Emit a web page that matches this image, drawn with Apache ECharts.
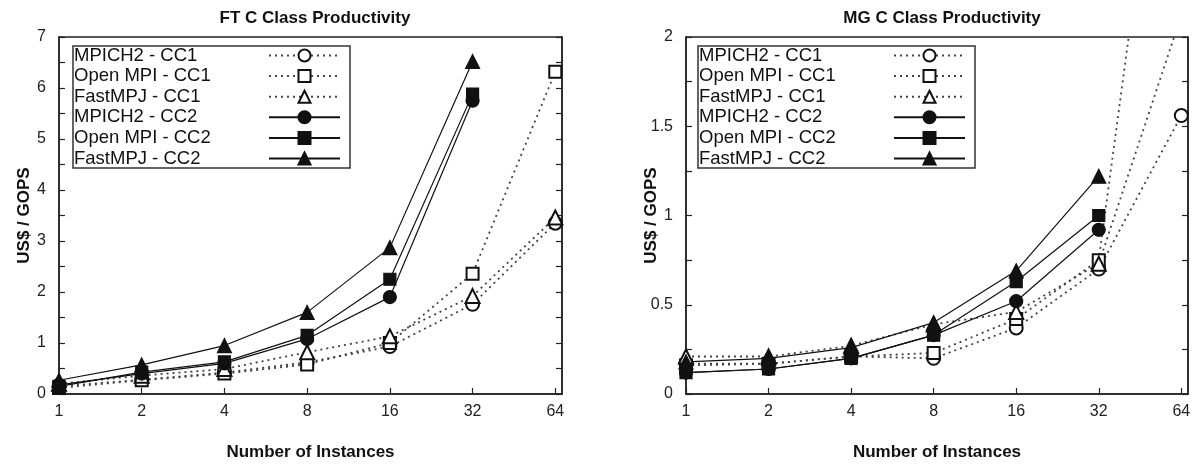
<!DOCTYPE html>
<html><head><meta charset="utf-8">
<script src="https://cdn.jsdelivr.net/npm/echarts@6/dist/echarts.min.js"></script>
<style>html,body{margin:0;padding:0;background:#fff}#c{width:1195px;height:466px}</style>
</head><body><div id="c"></div>
<script>
// ---- data ----
const instances = [1, 2, 4, 8, 16, 32, 64];
const xTickLabels = ['1', '2', '4', '8', '16', '32', '64'];
const seriesNames = ['MPICH2 - CC1', 'Open MPI - CC1', 'FastMPJ - CC1', 'MPICH2 - CC2', 'Open MPI - CC2', 'FastMPJ - CC2'];
const chartTitles = ['FT C Class Productivity', 'MG C Class Productivity'];

// FT C class (US$/GOPS)
const ftMpich2CC1  = [0.15, 0.28, 0.42, 0.62, 0.93, 1.76, 3.35];
const ftOpenmpiCC1 = [0.12, 0.27, 0.40, 0.58, 1.00, 2.36, 6.32];
const ftFastmpjCC1 = [0.20, 0.36, 0.49, 0.82, 1.13, 1.92, 3.46];
const ftMpich2CC2  = [0.18, 0.40, 0.60, 1.08, 1.90, 5.75, null];
const ftOpenmpiCC2 = [0.15, 0.43, 0.63, 1.15, 2.25, 5.88, null];
const ftFastmpjCC2 = [0.27, 0.57, 0.95, 1.60, 2.87, 6.52, null];

// MG C class (US$/GOPS)
const mgMpich2CC1  = [0.17, 0.17, 0.21, 0.20, 0.37, 0.70, 1.56];
const mgOpenmpiCC1 = [0.16, 0.17, 0.21, 0.23, 0.42, 0.75, 4.20];
const mgFastmpjCC1 = [0.21, 0.21, 0.27, 0.39, 0.46, 0.73, 2.12];
const mgMpich2CC2  = [0.12, 0.14, 0.20, 0.33, 0.52, 0.92, null];
const mgOpenmpiCC2 = [0.12, 0.14, 0.20, 0.33, 0.63, 1.00, null];
const mgFastmpjCC2 = [0.18, 0.20, 0.26, 0.40, 0.69, 1.22, null];

const ftYTicks = {min: 0, max: 7, interval: 1};
const mgYTicks = {min: 0, max: 2, interval: 0.5};
// ---- chart ----
const FONT = 'Liberation Sans';
const symbols = ['emptyCircle', 'emptyRect', 'emptyTriangle', 'circle', 'rect', 'triangle'];
const symSizes = [13, 12, 14, 13, 12, 14];

const chart = echarts.init(document.getElementById('c'), null, {renderer: 'canvas'});

function mkSeries(name, values, idx, k) {
  const dotted = k < 3;
  return {
    name: name, type: 'line', xAxisIndex: idx, yAxisIndex: idx,
    data: instances.map((x, i) => values[i] == null ? null : [x, values[i]]).filter(d => d),
    symbol: symbols[k], symbolSize: symSizes[k], showAllSymbol: true,
    clip: true, animation: false,
    lineStyle: dotted ? {color: '#444', width: 1.8, type: [2, 4]} : {color: '#111', width: 1.2, type: 'solid'},
    itemStyle: {color: '#111', borderColor: '#111', borderWidth: 1.2},
    emphasis: {disabled: true}
  };
}

const ftSets = [ftMpich2CC1, ftOpenmpiCC1, ftFastmpjCC1, ftMpich2CC2, ftOpenmpiCC2, ftFastmpjCC2];
const mgSets = [mgMpich2CC1, mgOpenmpiCC1, mgFastmpjCC1, mgMpich2CC2, mgOpenmpiCC2, mgFastmpjCC2];
const series = [];
ftSets.forEach((v, k) => series.push(mkSeries(seriesNames[k], v, 0, k)));
mgSets.forEach((v, k) => series.push(mkSeries(seriesNames[k], v, 1, k)));

const grids = [
  {left: 59, top: 37, width: 503, height: 358},
  {left: 686, top: 37, width: 502, height: 358}
];

function mkX(gi) {
  return {
    type: 'log', logBase: 2, gridIndex: gi, min: 1, max: 67.7,
    name: 'Number of Instances', nameLocation: 'middle', nameGap: 50,
    nameTextStyle: {fontFamily: FONT, fontSize: 17, fontWeight: 'bold', color: '#111'},
    axisLine: {show: true, onZero: false, lineStyle: {color: '#222', width: 1.5}},
    axisTick: {show: true, inside: true, length: 6, customValues: instances, lineStyle: {color: '#222', width: 1.2}},
    axisLabel: {show: true, customValues: instances, margin: 10, fontFamily: FONT, fontSize: 16, color: '#222',
      formatter: v => { const i = instances.indexOf(Math.round(v)); return i >= 0 ? xTickLabels[i] : ''; }},
    splitLine: {show: false}, minorTick: {show: false}
  };
}
function mkY(gi, t, right, gap) {
  return {
    type: 'value', gridIndex: gi, min: t.min, max: t.max, interval: t.interval,
    position: right ? 'right' : 'left',
    name: right ? '' : 'US$ / GOPS', nameLocation: 'middle', nameGap: gap, nameMoveOverlap: false,
    nameTextStyle: {fontFamily: FONT, fontSize: 17, fontWeight: 'bold', color: '#111'},
    axisLine: {show: true, onZero: false, lineStyle: {color: '#222', width: 1.5}},
    axisTick: {show: true, inside: true, length: 6, lineStyle: {color: '#222', width: 1.2}},
    minorTick: {show: true, splitNumber: 2, length: 6, lineStyle: {color: '#222', width: 1.2}},
    axisLabel: {show: !right, inside: false, margin: 13, fontFamily: FONT, fontSize: 16, color: '#222'},
    splitLine: {show: false}
  };
}

function mkLegend(left) {
  return {
    orient: 'vertical', left: left, top: 46, align: 'right',
    itemWidth: 71, itemHeight: 15, itemGap: 1.6,
    padding: [0, 9, 0, 1],
    borderColor: '#333', borderWidth: 1.5, backgroundColor: '#fff',
    selectedMode: false,
    formatter: n => '{t|' + n + '}',
    textStyle: {fontFamily: FONT, fontSize: 18.5, color: '#111',
      rich: {t: {width: 190, align: 'left', fontFamily: FONT, fontSize: 18.5, lineHeight: 20.5, color: '#111'}}},
    data: seriesNames
  };
}

chart.setOption({
  backgroundColor: '#fff',
  animation: false,
  title: [
    {text: chartTitles[0], left: 310, top: 5, textAlign: 'center',
     textStyle: {fontFamily: FONT, fontSize: 17, fontWeight: 'bold', color: '#111'}},
    {text: chartTitles[1], left: 937, top: 5, textAlign: 'center',
     textStyle: {fontFamily: FONT, fontSize: 17, fontWeight: 'bold', color: '#111'}}
  ],
  grid: grids.map(g => Object.assign({show: true, borderColor: '#222', borderWidth: 1.5, backgroundColor: 'transparent'}, g)),
  xAxis: [mkX(0), mkX(1)],
  yAxis: [mkY(0, ftYTicks, false, 26), mkY(1, mgYTicks, false, 26), mkY(0, ftYTicks, true, 0), mkY(1, mgYTicks, true, 0)],
  legend: [mkLegend(73), mkLegend(698)],
  series: series
});
</script></body></html>
